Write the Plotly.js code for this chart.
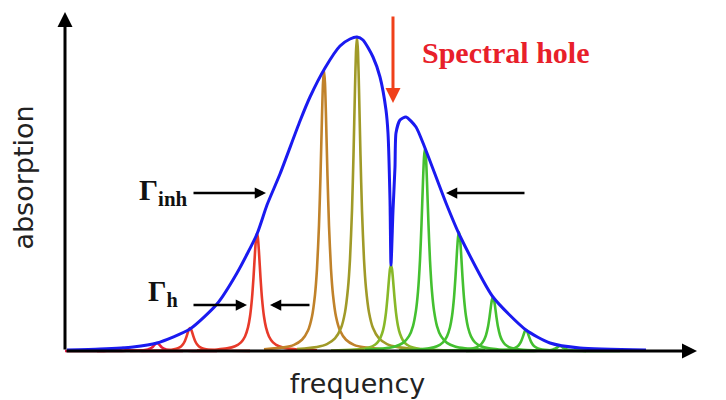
<!DOCTYPE html>
<html>
<head>
<meta charset="utf-8">
<script src="https://cdn.plot.ly/plotly-3.0.1.min.js"></script>
<style>html,body{margin:0;padding:0;background:#fff;}#chart{width:726px;height:400px;}</style>
</head>
<body>
<div id="chart"></div>
<script>
// Homogeneous lines: centre frequency and peak absorption
var peakCenters = [123, 157, 190, 257, 324, 357, 391, 425, 459, 493, 526, 560];
var peakHeights = [3, 8, 23, 118, 281, 314, 86, 203, 119, 54, 21, 5];
var peakColors  = ['#e82048', '#e8203c', '#e83a2a', '#e83a2a', '#c0822a', '#a09a28', '#88b828', '#44c030', '#44c030', '#44c030', '#44c030', '#44c030'];

// Shape of one homogeneous line (offset from centre, fraction of peak)
var shapeOffsets   = [-60, -40, -30, -22, -16, -12, -9, -7, -5, -3.5, -2, -1, 0, 1, 2, 3.5, 5, 7, 9, 12, 16, 22, 30, 40, 60];
var shapeFractions = [0.006, 0.013, 0.022, 0.04, 0.073, 0.123, 0.2, 0.292, 0.447, 0.623, 0.835, 0.953, 1, 0.953, 0.835, 0.623, 0.447, 0.292, 0.2, 0.123, 0.073, 0.04, 0.022, 0.013, 0.006];

// Inhomogeneous envelope with the burnt spectral hole
var envX = [67, 100, 133, 157, 190, 217, 237, 257, 267, 280, 300, 310, 325, 340, 350, 357, 363, 373, 380, 386, 388, 390, 391, 393, 395, 396, 400, 406, 416, 425, 446, 460, 493, 526, 550, 580, 646];
var envY = [1, 2, 4, 8, 22, 47, 78, 117, 146, 177, 230, 254, 283, 305, 312, 314, 311, 294, 274, 241, 218, 151, 86, 140, 184, 218, 231, 234, 224, 203, 148, 115, 54, 21, 8, 3, 1];

var traces = [];
for (var i = 0; i < peakCenters.length; i++) {
  var xs = [], ys = [];
  for (var k = 0; k < shapeOffsets.length; k++) {
    xs.push(peakCenters[i] + shapeOffsets[k]);
    ys.push(peakHeights[i] * shapeFractions[k]);
  }
  traces.push({x: xs, y: ys, type: 'scatter', mode: 'lines', hoverinfo: 'skip',
    line: {color: peakColors[i], width: 2.6, shape: 'spline', smoothing: 0.6}, showlegend: false});
}
traces.push({x: envX, y: envY, type: 'scatter', mode: 'lines', hoverinfo: 'skip',
  line: {color: '#1a1af0', width: 3, shape: 'spline', smoothing: 0.6}, showlegend: false});

function arrow(x, y, ax, ay, color, w, head, size) {
  return {x: x, y: y, ax: ax, ay: ay, xref: 'x', yref: 'y', axref: 'x', ayref: 'y', text: '',
    showarrow: true, arrowcolor: color, arrowwidth: w, arrowhead: head, arrowsize: size, standoff: 0, startstandoff: 0};
}

var serif = 'Liberation Serif, Times New Roman, serif';
var layout = {
  width: 726, height: 400,
  margin: {l: 65, r: 0, t: 0, b: 45},
  paper_bgcolor: '#ffffff', plot_bgcolor: '#ffffff',
  xaxis: {domain: [0, 0.885], range: [65, 650], showgrid: false, zeroline: false, showline: false,
    showticklabels: false, ticks: '',
    title: {text: 'frequency', standoff: 19, font: {family: 'DejaVu Sans, sans-serif', size: 27, color: '#222'}}},
  yaxis: {range: [-4, 351], showgrid: false, zeroline: false, showline: false,
    showticklabels: false, ticks: '',
    title: {text: 'absorption', standoff: 22, font: {family: 'DejaVu Sans, sans-serif', size: 27, color: '#222'}}},
  annotations: [
    arrow(65, 339, 65, 0, '#000', 3, 2, 1),
    arrow(697, 0, 65, 0, '#000', 3, 2, 1),
    arrow(393, 248, 393, 336, '#f0401a', 3, 2, 1),
    arrow(266, 158, 192, 158, '#000', 2.5, 2, 0.9),
    arrow(446, 158, 526, 158, '#000', 2.5, 2, 0.9),
    arrow(247, 46, 192, 46, '#000', 2.5, 2, 0.9),
    arrow(270, 46, 311, 46, '#000', 2.5, 2, 0.9),
    {x: 506, y: 299, xref: 'x', yref: 'y', text: '<b>Spectral hole</b>', showarrow: false,
      font: {family: serif, size: 30, color: '#e8202a'}},
    {x: 190, y: 159, xref: 'x', yref: 'y', xanchor: 'right', text: '<b>Γ<sub>inh</sub></b>', showarrow: false,
      font: {family: serif, size: 30, color: '#111'}},
    {x: 180, y: 58, xref: 'x', yref: 'y', xanchor: 'right', text: '<b>Γ<sub>h</sub></b>', showarrow: false,
      font: {family: serif, size: 29, color: '#111'}}
  ]
};
Plotly.newPlot('chart', traces, layout, {displayModeBar: false, staticPlot: true});
</script>
</body>
</html>
